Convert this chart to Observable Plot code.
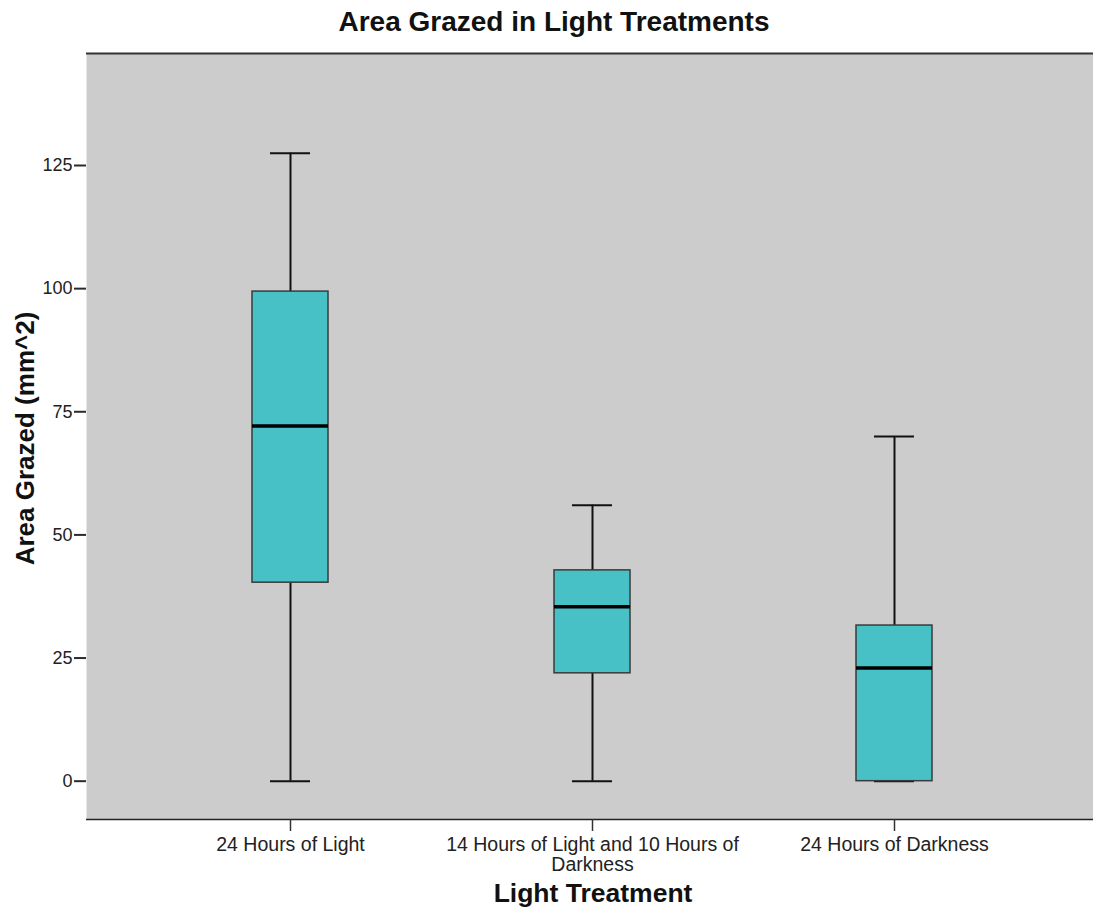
<!DOCTYPE html>
<html>
<head>
<meta charset="utf-8">
<script src="https://cdn.jsdelivr.net/npm/d3@7"></script>
<script src="https://cdn.jsdelivr.net/npm/@observablehq/plot@0.6"></script>
<style>
  html, body { margin: 0; padding: 0; background: #fff; }
  #chart svg { display: block; }
</style>
</head>
<body>
<div id="chart"></div>
<script>
const categories = ["24 Hours of Light", "14 Hours of Light and 10 Hours of Darkness", "24 Hours of Darkness"];
const tickLabels = ["24 Hours of Light", "14 Hours of Light and 10 Hours of\nDarkness", "24 Hours of Darkness"];
const minValues = [0, 0, 0];
const q1Values = [40.3, 21.9, 0];
const medianValues = [72.1, 35.4, 23.0];
const q3Values = [99.4, 42.8, 31.6];
const maxValues = [127.5, 56.0, 70.0];
const yTicks = [0, 25, 50, 75, 100, 125];
const title = "Area Grazed in Light Treatments";
const xLabel = "Light Treatment";
const yLabel = "Area Grazed (mm^2)";

const rows = categories.map((c, i) => ({
  cat: c, min: minValues[i], q1: q1Values[i], median: medianValues[i], q3: q3Values[i], max: maxValues[i]
}));
const yDomain = [-7.78, 147.74];
const font = "'Liberation Sans', Arial, Helvetica, sans-serif";

const chart = Plot.plot({
  width: 1093,
  height: 911,
  marginTop: 53,
  marginBottom: 92,
  marginLeft: 86,
  marginRight: 0,
  style: { fontFamily: font, background: "#ffffff" },
  x: { domain: categories, paddingInner: 0.75, paddingOuter: 0.537, align: 0.508 },
  y: { domain: yDomain },
  marks: [
    Plot.frame({ fill: "#cccccc", stroke: null }),
    Plot.ruleY([yDomain[1]], { stroke: "#333333", strokeWidth: 2 }),
    Plot.ruleY([yDomain[0]], { stroke: "#222222", strokeWidth: 1.5 }),
    Plot.axisY({
      ticks: yTicks, tickSize: 12, tickPadding: 2, fontSize: 18, label: null,
      line: true, stroke: "#2a2a2a", strokeWidth: 2, color: "#222"
    }),
    Plot.axisX({
      tickSize: 12, tickPadding: 6, fontSize: 19.5, label: null, lineHeight: 1.0,
      tickFormat: d => tickLabels[categories.indexOf(d)], stroke: "#333333", strokeWidth: 1.5, color: "#222"
    }),
    Plot.ruleX(rows, { x: "cat", y1: "min", y2: "max", stroke: "#111111", strokeWidth: 2 }),
    Plot.tickY(rows, { x: "cat", y: "max", stroke: "#111111", strokeWidth: 2, insetLeft: 18, insetRight: 18 }),
    Plot.tickY(rows, { x: "cat", y: "min", stroke: "#111111", strokeWidth: 2, insetLeft: 18, insetRight: 18 }),
    Plot.barY(rows, { x: "cat", y1: "q1", y2: "q3", fill: "#47c1c6", stroke: "#3a3a3a", strokeWidth: 1.5 }),
    Plot.tickY(rows, { x: "cat", y: "median", stroke: "#000000", strokeWidth: 3.5 }),
    Plot.text([title], { frameAnchor: "top", dy: -31, dx: -36, fontSize: 28, fontWeight: "bold", fill: "#111", lineAnchor: "middle" }),
    Plot.text([xLabel], { frameAnchor: "bottom", dy: 74, dx: 3, fontSize: 26.5, fontWeight: "bold", fill: "#111", lineAnchor: "middle" }),
    Plot.text([yLabel], { frameAnchor: "left", dx: -61, dy: 2, rotate: -90, fontSize: 26, fontWeight: "bold", fill: "#111", lineAnchor: "middle", textAnchor: "middle" })
  ]
});
document.getElementById("chart").appendChild(chart);
</script>
</body>
</html>
